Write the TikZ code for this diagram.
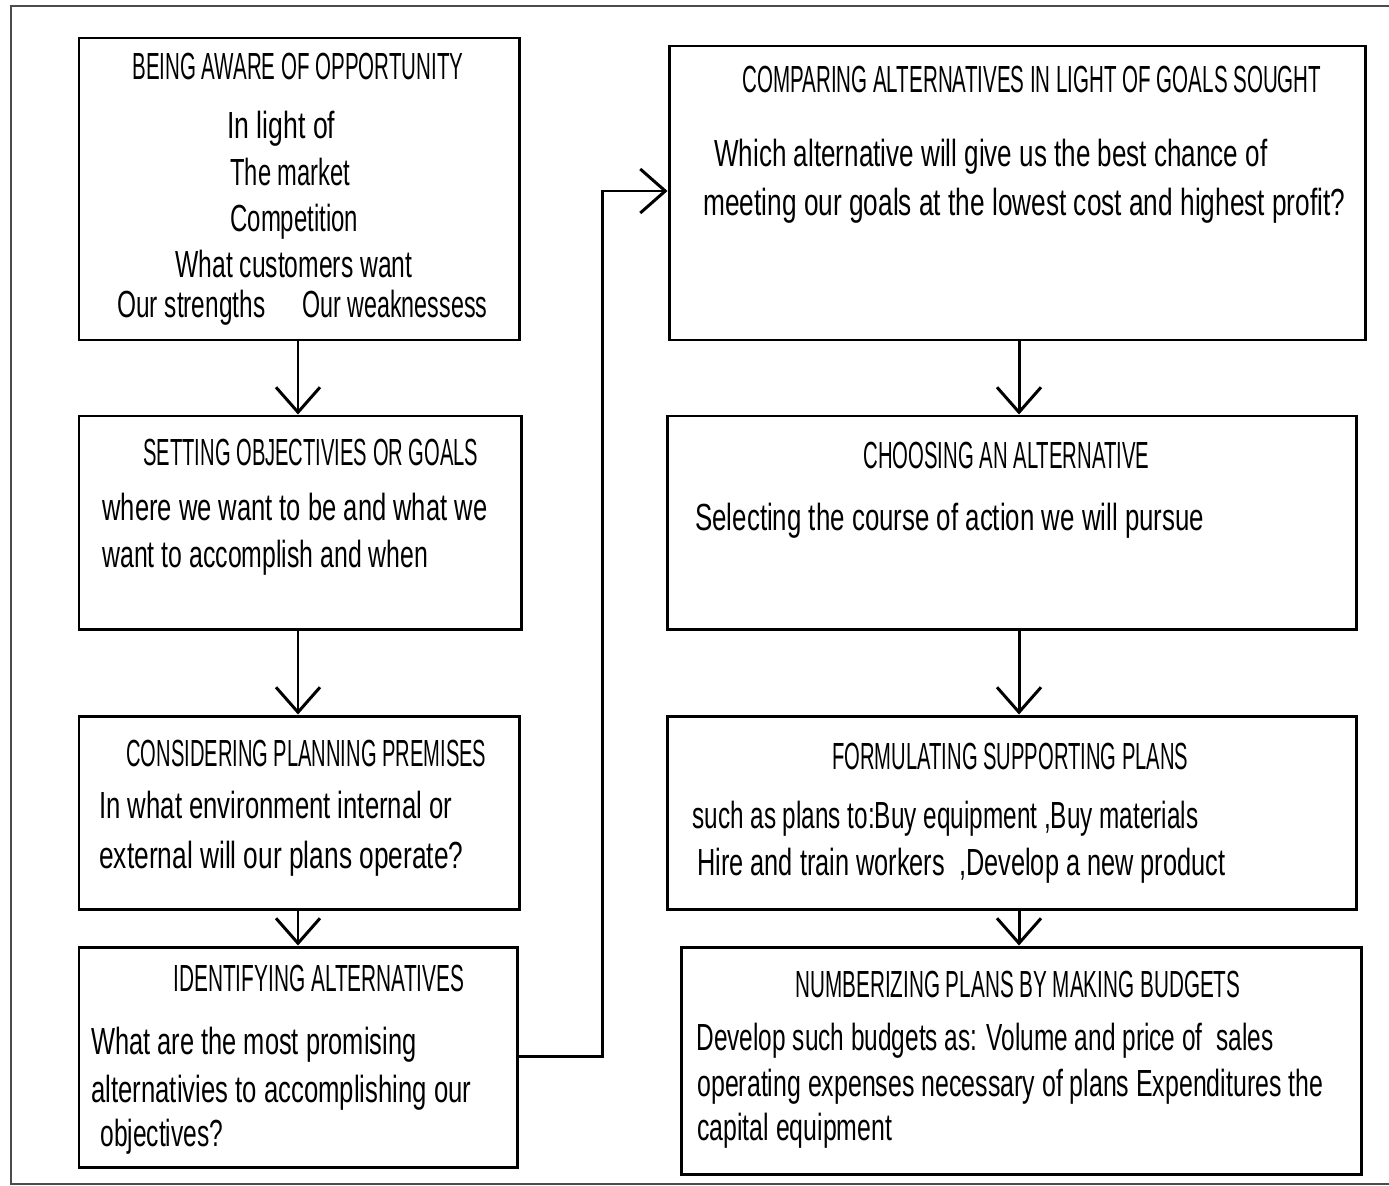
\documentclass[tikz,border=0pt]{standalone}
\usepackage{fontspec}
\setmainfont{Liberation Sans}
\usetikzlibrary{arrows.meta,fit}
% one unit of the drawing grid
\newlength\px \setlength\px{0.02cm}
% set a line of text to a given width (in grid units), keeping its height
\newcommand\fitw[2]{\resizebox{#1\px}{\height}{#2}}
\begin{document}
\begin{tikzpicture}[x=0.02cm, y=-0.02cm,
  box/.style={draw, line width=1.7pt, inner sep=0pt},
  txt/.style={inner sep=0pt, anchor=base west, font=\fontsize{21.5}{25}\selectfont},
  arr/.style={line width=1.7pt, -{Straight Barb[length=0.5cm, width=0.88cm, line width=1.7pt]}},
  frame/.style={draw=black!70, line width=1.1pt}]
\useasboundingbox (0,0) rectangle (1389,1186);

% outer frame (open on the right)
\coordinate (fa) at (1389,6);
\coordinate (fb) at (11,6);
\coordinate (fc) at (11,1184);
\coordinate (fd) at (1389,1184);
\draw[frame] (fa) -- (fb) -- (fc) -- (fd);

% boxes
\node[box, fit={(79,38)(519,340)}] (b1) {};
\node[box, fit={(79,416)(521,629)}] (b2) {};
\node[box, fit={(79,716)(519,909)}] (b3) {};
\node[box, fit={(79,947)(517,1167)}] (b4) {};
\node[box, fit={(669,46)(1365,340)}] (b5) {};
\node[box, fit={(667,416)(1356,629)}] (b6) {};
\node[box, fit={(667,716)(1356,909)}] (b7) {};
\node[box, fit={(681,947)(1361,1174)}] (b8) {};

% box 1
\node[txt] (t1a) at (132,80)  {\fitw{331}{BEING AWARE OF OPPORTUNITY}};
\node[txt] (t1b) at (227,138) {\fitw{108}{In light of}};
\node[txt] (t1c) at (230,185) {\fitw{120}{The market}};
\node[txt] (t1d) at (230,231) {\fitw{128}{Competition}};
\node[txt] (t1e) at (175,277) {\fitw{237}{What customers want}};
\node[txt] (t1f) at (117,317) {\fitw{148}{Our strengths}};
\node[txt] (t1g) at (302,317) {\fitw{185}{Our weaknessess}};

% box 2
\node[txt] (t2a) at (143,465) {\fitw{335}{SETTING OBJECTIVIES OR GOALS}};
\node[txt] (t2b) at (102,520) {\fitw{385}{where we want to be and what we}};
\node[txt] (t2c) at (102,567) {\fitw{326}{want to accomplish and when}};

% box 3
\node[txt] (t3a) at (126,766) {\fitw{360}{CONSIDERING PLANNING PREMISES}};
\node[txt] (t3b) at (99,818)  {\fitw{353}{In what environment internal or}};
\node[txt] (t3c) at (99,868)  {\fitw{364}{external will our plans operate?}};

% box 4
\node[txt] (t4a) at (173,991)  {\fitw{291}{IDENTIFYING ALTERNATIVES}};
\node[txt] (t4b) at (91,1054)  {\fitw{325}{What are the most promising}};
\node[txt] (t4c) at (91,1102)  {\fitw{380}{alternativies to accomplishing our}};
\node[txt] (t4d) at (100,1146) {\fitw{123}{objectives?}};

% box 5
\node[txt] (t5a) at (742,92)  {\fitw{579}{COMPARING ALTERNATIVES IN LIGHT OF GOALS SOUGHT}};
\node[txt] (t5b) at (714,166) {\fitw{553}{Which alternative will give us the best chance of}};
\node[txt] (t5c) at (703,215) {\fitw{642}{meeting our goals at the lowest cost and highest profit?}};

% box 6
\node[txt] (t6a) at (863,468) {\fitw{286}{CHOOSING AN ALTERNATIVE}};
\node[txt] (t6b) at (695,530) {\fitw{509}{Selecting the course of action we will pursue}};

% box 7
\node[txt] (t7a) at (832,769) {\fitw{356}{FORMULATING SUPPORTING PLANS}};
\node[txt] (t7b) at (692,828) {\fitw{506}{such as plans to:Buy equipment ,Buy materials}};
\node[txt] (t7c) at (697,875) {\fitw{528}{Hire and train workers\ \ ,Develop a new product}};

% box 8
\node[txt] (t8a) at (795,997)  {\fitw{445}{NUMBERIZING PLANS BY MAKING BUDGETS}};
\node[txt] (t8b) at (696,1050) {\fitw{577}{Develop such budgets as: Volume and price of\ \ sales}};
\node[txt] (t8c) at (697,1096) {\fitw{626}{operating expenses necessary of plans Expenditures the}};
\node[txt] (t8d) at (697,1140) {\fitw{195}{capital equipment}};

% connectors
\coordinate (xl) at (298,0);
\coordinate (xr) at (1019,0);
\coordinate (bend) at (602,1056);
\coordinate (rise) at (602,191);
\draw[arr] (b1.south -| xl) -- (b2.north -| xl);
\draw[arr] (b2.south -| xl) -- (b3.north -| xl);
\draw[arr] (b3.south -| xl) -- (b4.north -| xl);
\draw[arr] (b4.east |- bend) -- (bend) -- (rise) -- (b5.west |- rise);
\draw[arr] (b5.south -| xr) -- (b6.north -| xr);
\draw[arr] (b6.south -| xr) -- (b7.north -| xr);
\draw[arr] (b7.south -| xr) -- (b8.north -| xr);
\end{tikzpicture}
\end{document}
